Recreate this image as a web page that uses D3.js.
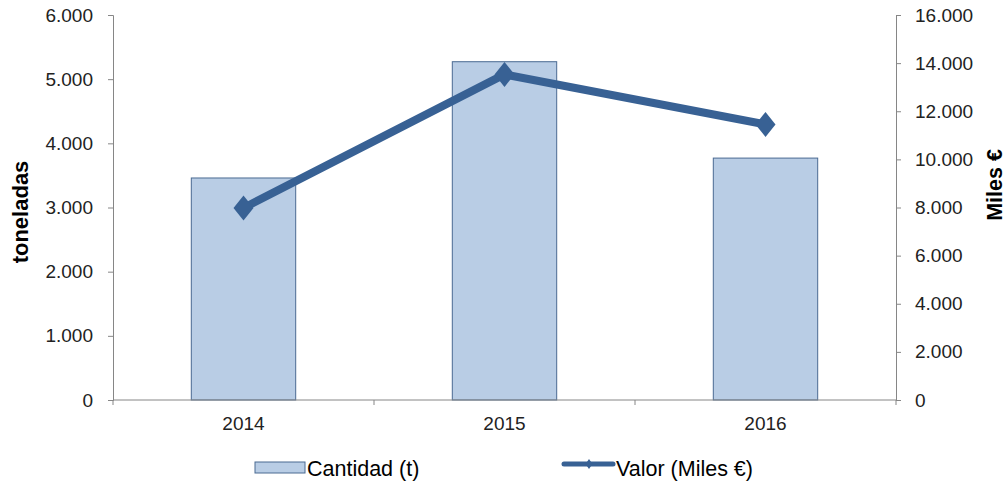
<!DOCTYPE html>
<html>
<head>
<meta charset="utf-8">
<script src="https://cdn.jsdelivr.net/npm/d3@7"></script>
<style>
  body { margin: 0; background: #fff; }
  svg { font-family: "Liberation Sans", Arial, sans-serif; }
</style>
</head>
<body>
<svg id="chart" width="1008" height="483"></svg>
<script>
const years = ['2014', '2015', '2016']
const cantidad = [3460, 5272, 3770]
const valor = [7980, 13530, 11450]
const leftTicks = [0, 1000, 2000, 3000, 4000, 5000, 6000]
const rightTicks = [0, 2000, 4000, 6000, 8000, 10000, 12000, 14000, 16000]

const margin = {top: 15, right: 112, bottom: 83, left: 113}
const width = 1008, height = 483
const svg = d3.select('#chart')

const fmt = d3.formatLocale({decimal: ',', thousands: '.', grouping: [3], currency: ['', '€']}).format(',d')

const x = d3.scaleBand()
  .domain(years)
  .range([margin.left, width - margin.right])
  .paddingInner(0.6)
  .paddingOuter(0.3)

const yL = d3.scaleLinear().domain([0, 6000]).range([height - margin.bottom, margin.top])
const yR = d3.scaleLinear().domain([0, 16000]).range([height - margin.bottom, margin.top])

const axisColor = '#868686'
const fontSize = 19

// bars
svg.append('g')
  .selectAll('rect')
  .data(cantidad)
  .join('rect')
    .attr('x', (d, i) => x(years[i]))
    .attr('y', d => yL(d))
    .attr('width', x.bandwidth())
    .attr('height', d => yL(0) - yL(d))
    .attr('fill', '#B9CDE5')
    .attr('stroke', '#4A6A92')
    .attr('stroke-width', 1)

// left axis
const gl = svg.append('g')
  .attr('transform', 'translate(' + margin.left + ',0)')
  .call(d3.axisLeft(yL).tickValues(leftTicks).tickFormat(fmt).tickSize(5).tickSizeOuter(5).tickPadding(15))
// right axis
const gr = svg.append('g')
  .attr('transform', 'translate(' + (width - margin.right) + ',0)')
  .call(d3.axisRight(yR).tickValues(rightTicks).tickFormat(fmt).tickSize(5).tickSizeOuter(5).tickPadding(14))

// bottom axis: separator ticks between categories
const gb = svg.append('g')
  .attr('transform', 'translate(0,' + yL(0) + ')')
gb.append('line')
  .attr('x1', margin.left).attr('x2', width - margin.right)
  .attr('stroke', axisColor)
const step = x.step()
gb.selectAll('line.sep')
  .data(d3.range(years.length + 1))
  .join('line')
    .attr('class', 'sep')
    .attr('x1', i => margin.left + i * step)
    .attr('x2', i => margin.left + i * step)
    .attr('y1', 0).attr('y2', 5)
    .attr('stroke', axisColor)
gb.selectAll('text')
  .data(years)
  .join('text')
    .attr('x', d => x(d) + x.bandwidth() / 2)
    .attr('y', 30)
    .attr('text-anchor', 'middle')
    .attr('font-size', fontSize)
    .attr('fill', '#222')
    .text(d => d)

;[gl, gr].forEach(g => {
  g.select('.domain').attr('stroke', axisColor)
  g.selectAll('.tick line').attr('stroke', axisColor)
  g.selectAll('.tick text').attr('font-size', fontSize).attr('fill', '#222').attr('font-family', '"Liberation Sans", Arial, sans-serif')
})

// line
const lineColor = '#386194'
const cx = i => x(years[i]) + x.bandwidth() / 2
svg.append('path')
  .datum(valor)
  .attr('fill', 'none')
  .attr('stroke', lineColor)
  .attr('stroke-width', 8)
  .attr('stroke-linejoin', 'round')
  .attr('d', d3.line().x((d, i) => cx(i)).y(d => yR(d)))

const diamond = (w, h) => `M0,${-h}L${w},0L0,${h}L${-w},0Z`
svg.append('g')
  .selectAll('path')
  .data(valor)
  .join('path')
    .attr('transform', (d, i) => 'translate(' + cx(i) + ',' + yR(d) + ')')
    .attr('d', diamond(10, 12.5))
    .attr('fill', lineColor)

// axis titles
svg.append('text')
  .attr('transform', 'translate(28,212) rotate(-90)')
  .attr('text-anchor', 'middle')
  .attr('font-size', 22)
  .attr('font-weight', 'bold')
  .attr('fill', '#000')
  .text('toneladas')
svg.append('text')
  .attr('transform', 'translate(1002,185) rotate(-90)')
  .attr('text-anchor', 'middle')
  .attr('font-size', 21.5)
  .attr('font-weight', 'bold')
  .attr('fill', '#000')
  .text('Miles €')

// legend
const lg = svg.append('g')
lg.append('rect')
  .attr('x', 255).attr('y', 462).attr('width', 50).attr('height', 11)
  .attr('fill', '#B9CDE5').attr('stroke', '#4A6A92')
lg.append('text')
  .attr('x', 307).attr('y', 476)
  .attr('font-size', 21.5).attr('fill', '#000')
  .text('Cantidad (t)')
lg.append('line')
  .attr('x1', 564).attr('x2', 613).attr('y1', 464).attr('y2', 464)
  .attr('stroke', lineColor).attr('stroke-width', 5).attr('stroke-linecap', 'round')
lg.append('path')
  .attr('transform', 'translate(589,464)')
  .attr('d', diamond(3.5, 5))
  .attr('fill', lineColor)
lg.append('text')
  .attr('x', 616).attr('y', 476)
  .attr('font-size', 21.5).attr('fill', '#000')
  .text('Valor (Miles €)')
</script>
</body>
</html>
